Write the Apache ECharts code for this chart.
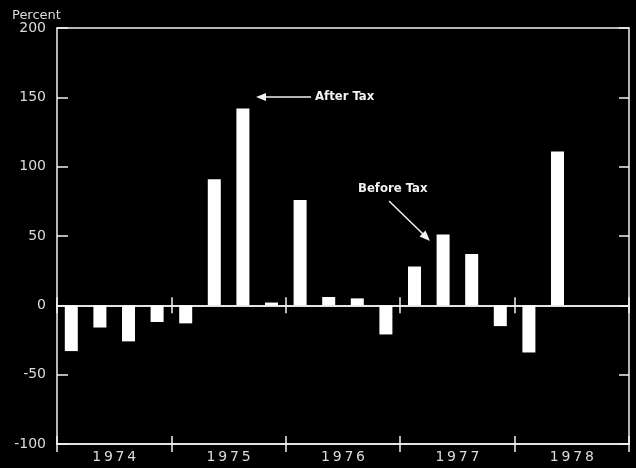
<!DOCTYPE html>
<html>
<head>
<meta charset="utf-8">
<script src="https://cdn.jsdelivr.net/npm/echarts@6/dist/echarts.min.js"></script>
<style>
  html, body { margin: 0; padding: 0; background: #000; }
  #chart { width: 636px; height: 468px; }
</style>
</head>
<body>
<div id="chart"></div>
<script>
// quarters 1974 Q1 .. 1978 Q4 (last two quarters of 1978 have no data)
let years = ["1974", "1975", "1976", "1977", "1978"];
let quarters = [];
years.forEach((y) => {
  for (let q = 1; q <= 4; q++) quarters.push(y + " Q" + q);
});
let changes = [
  -33, -16, -26, -12,
  -13, 91, 142, 2,
  76, 6, 5, -21,
  28, 51, 37, -15,
  -34, 111, null, null,
];
let yTicks = [-100, 200, 50];

let chart = echarts.init(document.getElementById("chart"));
let white = "#f2f2f2";
let labelColor = "#dcdcdc";
let font = "DejaVu Sans";
let noteFont = "bold 13px 'DejaVu Sans Condensed', 'Liberation Sans', sans-serif";

// spread digits a little like the original lettering
function spaced(s) {
  return s.split("").join("\u2009");
}

function yearAxis(opts) {
  return Object.assign(
    {
      type: "category",
      data: years,
      boundaryGap: true,
      axisLine: { show: false },
      axisTick: { show: true, length: 8, lineStyle: { color: white, width: 1.5 } },
      axisLabel: { show: false },
      splitLine: { show: false },
    },
    opts
  );
}

let option = {
  backgroundColor: "#000",
  animation: false,
  grid: { left: 57, right: 7, top: 28, bottom: 24 },
  graphic: [
    {
      type: "text",
      left: 12,
      top: 9,
      style: { text: "Percent", fill: labelColor, font: "13px " + font },
    },
    {
      type: "text",
      x: 315,
      y: 97,
      style: { text: "After Tax", fill: white, font: noteFont, verticalAlign: "middle" },
    },
    {
      type: "line",
      shape: { x1: 311, y1: 97, x2: 262, y2: 97 },
      style: { stroke: white, lineWidth: 1.5 },
    },
    {
      type: "polygon",
      shape: { points: [[256, 97], [266, 93], [266, 101]] },
      style: { fill: white },
    },
    {
      type: "text",
      x: 358,
      y: 189,
      style: { text: "Before Tax", fill: white, font: noteFont, verticalAlign: "middle" },
    },
    {
      type: "line",
      shape: { x1: 389, y1: 201, x2: 424, y2: 235 },
      style: { stroke: white, lineWidth: 1.5 },
    },
    {
      type: "polygon",
      shape: { points: [[430, 241], [419.5, 236.5], [425.5, 230.5]] },
      style: { fill: white },
    },
  ],
  xAxis: [
    {
      type: "category",
      data: quarters,
      show: false,
      axisLine: { onZero: false },
    },
    // bottom axis with year labels, ticks down
    yearAxis({
      position: "bottom",
      axisLine: { show: true, onZero: false, lineStyle: { color: white, width: 1.5 } },
      axisLabel: {
        show: true,
        color: labelColor,
        fontFamily: font,
        fontSize: 14,
        margin: 6,
        formatter: spaced,
      },
    }),
    // bottom axis, ticks up
    yearAxis({
      position: "bottom",
      axisLine: { show: true, onZero: false, lineStyle: { color: white, width: 1.5 } },
      axisTick: { show: true, inside: true, length: 8, lineStyle: { color: white, width: 1.5 } },
    }),
    // zero line, ticks down
    yearAxis({
      position: "bottom",
      axisLine: { show: true, onZero: true, onZeroAxisIndex: 0, lineStyle: { color: white, width: 1.5 } },
      axisTick: { show: true, length: 8, lineStyle: { color: white, width: 1.5 } },
    }),
    // zero line, ticks up
    yearAxis({
      position: "bottom",
      axisLine: { show: true, onZero: true, onZeroAxisIndex: 1, lineStyle: { color: white, width: 1.5 } },
      axisTick: { show: true, inside: true, length: 8, lineStyle: { color: white, width: 1.5 } },
    }),
    // top border
    {
      type: "category",
      data: years,
      position: "top",
      axisLine: { show: true, onZero: false, lineStyle: { color: white, width: 1.5 } },
      axisTick: { show: false },
      axisLabel: { show: false },
    },
  ],
  yAxis: [
    {
      type: "value",
      min: yTicks[0],
      max: yTicks[1],
      interval: yTicks[2],
      axisLine: { show: true, lineStyle: { color: white, width: 1.5 } },
      axisTick: { show: true, inside: true, length: 11, lineStyle: { color: white, width: 1.5 } },
      axisLabel: { color: labelColor, fontFamily: font, fontSize: 14, margin: 11 },
      splitLine: { show: false },
    },
    {
      type: "value",
      position: "right",
      min: yTicks[0],
      max: yTicks[1],
      interval: yTicks[2],
      axisLine: { show: true, lineStyle: { color: white, width: 1.5 } },
      axisTick: { show: true, inside: true, length: 10, lineStyle: { color: white, width: 1.5 } },
      axisLabel: { show: false },
      splitLine: { show: false },
    },
  ],
  series: [
    {
      type: "bar",
      xAxisIndex: 0,
      yAxisIndex: 0,
      data: changes,
      barWidth: 13,
      itemStyle: { color: "#fff" },
    },
  ],
};

chart.setOption(option);
</script>
</body>
</html>
